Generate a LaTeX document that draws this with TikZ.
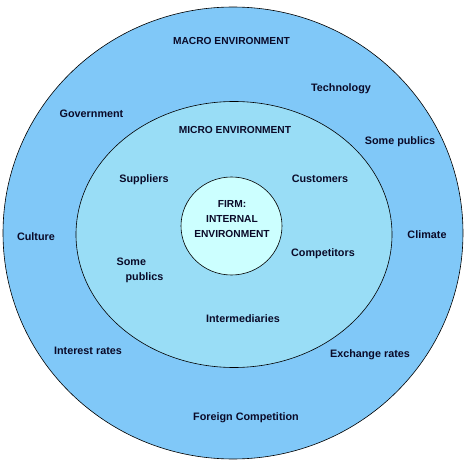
\documentclass[tikz,border=0pt]{standalone}
\usepackage{fontspec}
\setmainfont{Liberation Sans}
\definecolor{macroblue}{RGB}{128,200,248}
\definecolor{microblue}{RGB}{153,221,246}
\definecolor{firmblue}{RGB}{204,255,255}
\definecolor{inkblue}{RGB}{10,10,40}
\tikzset{
	lbl/.style={text=inkblue, font=\fontsize{10.8}{12}\selectfont\bfseries, inner sep=0pt, align=center},
	caps/.style={lbl, font=\fontsize{10.2}{12}\selectfont\bfseries},
	ring/.style={draw=black, line width=0.6pt}
}
\begin{document}
\begin{tikzpicture}[x=1pt, y=-1pt]
				\useasboundingbox (0,0) rectangle (472,468);
				\fill[white] (0,0) rectangle (472,468);
				
				% macro environment
				\draw[ring, fill=macroblue] (233,233) ellipse (230 and 226);
				% micro environment
				\draw[ring, fill=microblue] (234,234.5) ellipse (158 and 133);
				% the firm
				\draw[ring, fill=firmblue] (231.5,226) ellipse (50.5 and 49);
				
				\node[caps] (macro) at (231.5,41) {MACRO ENVIRONMENT};
				\node[lbl] (tech) at (341,89) {Technology};
				\node[lbl] (gov) at (91.5,114) {Government};
				\node[caps] (micro) at (235,130) {MICRO ENVIRONMENT};
				\node[lbl] (pubout) at (400,142) {Some publics};
				\node[lbl] (supp) at (144,180) {Suppliers};
				\node[lbl] (cust) at (320,179) {Customers};
				\node[caps] (firm) at (232,219) {FIRM:\\[3pt]INTERNAL\\[3pt]ENVIRONMENT};
				\node[lbl] (cult) at (36,237) {Culture};
				\node[lbl] (clim) at (427,235) {Climate};
				\node[lbl] (comp) at (323,254) {Competitors};
				\node[lbl, align=left] (pubin) at (140,270) {Some\\[3pt]\hspace*{9pt}publics};
				\node[lbl] (inter) at (243,319) {Intermediaries};
				\node[lbl] (rates) at (88,351) {Interest rates};
				\node[lbl] (exch) at (370,355) {Exchange rates};
				\node[lbl] (foreign) at (246,418) {Foreign Competition};
			\end{tikzpicture}
\end{document}
